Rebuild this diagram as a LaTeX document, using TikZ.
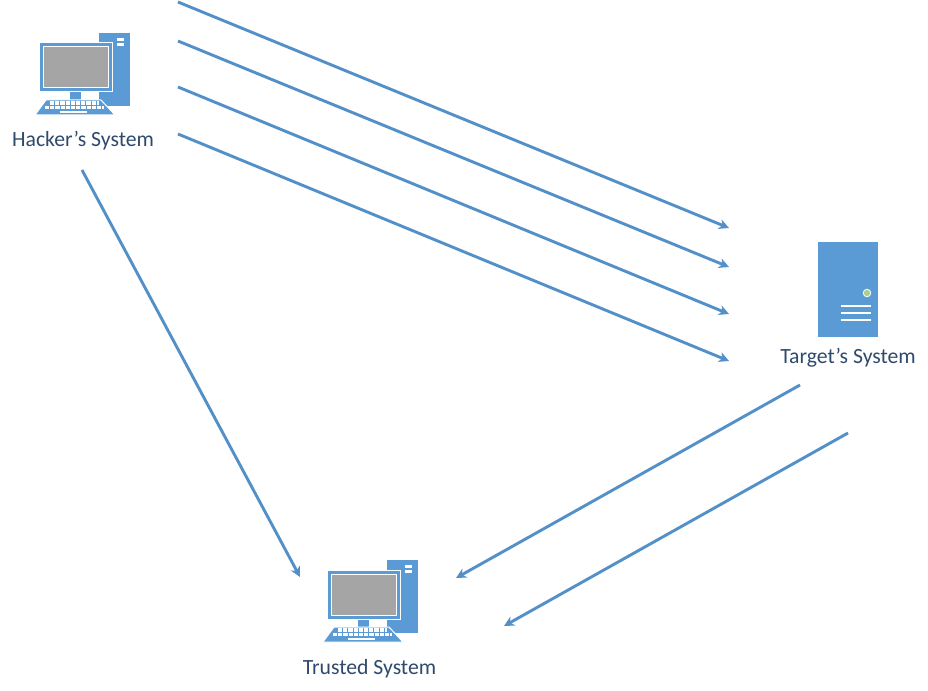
\documentclass[tikz,border=0pt]{standalone}
\usepackage{fontspec}
\setmainfont{Carlito}
\usepackage{xcolor}
\usetikzlibrary{arrows.meta}
\definecolor{iconblue}{HTML}{5B9BD5}
\definecolor{linkblue}{HTML}{5490C8}
\definecolor{screengrey}{HTML}{A5A5A5}
\definecolor{ledgreen}{HTML}{A9D18E}
\definecolor{labelblue}{HTML}{2F4A6D}
\tikzset{
    link/.style={draw=linkblue,line width=2.9pt,-{Stealth[length=10pt,width=10pt,inset=3pt]}},
    caption/.style={text=labelblue,font=\fontsize{21.7}{24}\selectfont,inner sep=0pt},
    keyrow/.style={draw=white,line width=3.2pt,dash pattern=on 4.2pt off 1pt},
    computer/.pic={
        \fill[iconblue](99,33) rectangle (130,106);
        \fill[white](117,38) rectangle (124,41);
        \fill[white](117,43) rectangle (124,46);
        \fill[iconblue](70,92) rectangle (81,100);
        \filldraw[iconblue,draw=white,line width=1pt](46,100)--(101,100)--(115,115)--(35,115)--cycle;
        \draw[keyrow](50,103)--(99,103);
        \draw[keyrow](45,107.5)--(104,107.5);
        \draw[white,line width=2.6pt](60,112)--(87,112);
        \filldraw[iconblue,draw=white,line width=1pt](39,43) rectangle (112,92);
        \filldraw[screengrey,draw=white,line width=1pt](43,47) rectangle (108,88);
    }
}
\begin{document}
\begin{tikzpicture}[x=1pt,y=-1pt]
        \useasboundingbox (0,0) rectangle (928,690);
        \fill[white] (0,0) rectangle (928,690);
        % the two desktops
        \pic at (0,0) {computer};
        \pic at (288,527) {computer};
        % the server
        \fill[iconblue](818,242) rectangle (878,337);
        \filldraw[ledgreen,draw=white,line width=0.8pt](867,293) circle (3.8);
        \draw[white,line width=2.2pt](841,306)--(871,306);
        \draw[white,line width=2.2pt](841,313)--(871,313);
        \draw[white,line width=2.2pt](841,320)--(871,320);
        \node[caption](hacker) at (83,141) {Hacker’s System};
        \node[caption](target) at (848,358) {Target’s System};
        \node[caption](trusted) at (369.5,669) {Trusted System};
        \coordinate(a1) at (178,2);
        \coordinate(a2) at (178,41);
        \coordinate(a3) at (178,87);
        \coordinate(a4) at (178,134);
        \coordinate(b1) at (729,228);
        \coordinate(b2) at (729,267);
        \coordinate(b3) at (729,314);
        \coordinate(b4) at (729,361);
        \coordinate(c) at (82,170);
        \coordinate(d) at (300,577);
        \coordinate(e1) at (800,385);
        \coordinate(e2) at (848,433);
        \coordinate(f1) at (456,578);
        \coordinate(f2) at (504,626);
        \draw[link](a1)--(b1);
        \draw[link](a2)--(b2);
        \draw[link](a3)--(b3);
        \draw[link](a4)--(b4);
        \draw[link](c)--(d);
        \draw[link](e1)--(f1);
        \draw[link](e2)--(f2);
        \end{tikzpicture}
\end{document}
